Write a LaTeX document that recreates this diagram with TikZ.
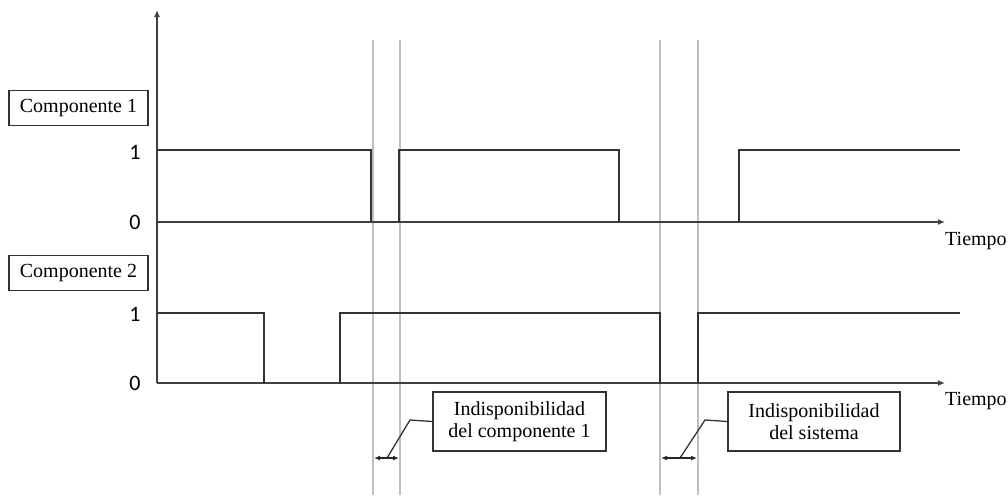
\documentclass[tikz,border=0pt]{standalone}
\usepackage{fontspec}
\setmainfont{Liberation Serif}
\newfontfamily\numfont{Carlito}
\usetikzlibrary{arrows.meta}
\begin{document}
\begin{tikzpicture}[x=1pt,y=-1pt,
  sig/.style={draw=black!80,line width=1.7pt},
  axis/.style={draw=black!75,line width=1.6pt},
  guide/.style={draw=black!25,line width=1.6pt},
  lbl/.style={draw=black!80,line width=1.3pt,font=\fontsize{20}{22}\selectfont,inner sep=0pt,align=center},
  num/.style={font=\numfont\fontsize{22}{24}\selectfont},
  tt/.style={font=\fontsize{20}{22}\selectfont,anchor=west,inner sep=0pt},
  lead/.style={draw=black!80,line width=1.3pt},
  dim/.style={draw=black!85,line width=1.3pt,{Latex[length=6pt,width=5pt]}-{Latex[length=6pt,width=5pt]}}
]
\useasboundingbox (0,0) rectangle (1008,498);
% guide lines
\draw[guide] (373,40) -- (373,495);
\draw[guide] (400,40) -- (400,495);
\draw[guide] (660,40) -- (660,495);
\draw[guide] (698,40) -- (698,495);
% axes
\draw[axis,-{Latex[length=7pt,width=6pt]}] (157,383) -- (157,10);
\draw[axis,-{Latex[length=7pt,width=6pt]}] (157,222) -- (945,222);
\draw[axis,-{Latex[length=7pt,width=6pt]}] (157,383) -- (945,383);
% signals
\draw[sig] (157,150) -- (371,150) -- (371,222);
\draw[sig] (399,222) -- (399,150) -- (619,150) -- (619,222);
\draw[sig] (739,222) -- (739,150) -- (960,150);
\draw[sig] (157,313) -- (264,313) -- (264,383);
\draw[sig] (340,383) -- (340,313) -- (660,313) -- (660,383);
\draw[sig] (698,383) -- (698,313) -- (960,313);
% labels
\node[lbl,minimum width=139pt,minimum height=35pt] (c1) at (78.5,108) {Componente 1};
\node[lbl,minimum width=139pt,minimum height=35pt] (c2) at (78.5,273) {Componente 2};
\node[num] (one1) at (135,152) {1};
\node[num] (zero1) at (135,222) {0};
\node[num] (one2) at (135,314) {1};
\node[num] (zero2) at (135,383) {0};
\node[tt] (t1) at (945,241) {Tiempo};
\node[tt] (t2) at (945,401) {Tiempo};
\node[lbl,minimum width=173pt,minimum height=59pt] (b1) at (519.5,421.5) {Indisponibilidad\\del componente 1};
\node[lbl,minimum width=172pt,minimum height=59pt] (b2) at (814,421.5) {Indisponibilidad\\del sistema};
% dimension arrows
\coordinate (d1) at (387,458);
\coordinate (d2) at (680,458);
\draw[dim] (374,458) -- (399,458);
\draw[dim] (661,458) -- (697,458);
\draw[lead] (b1.west) -- (410,420) -- (d1);
\draw[lead] (b2.west) -- (705,420) -- (d2);
\end{tikzpicture}
\end{document}
